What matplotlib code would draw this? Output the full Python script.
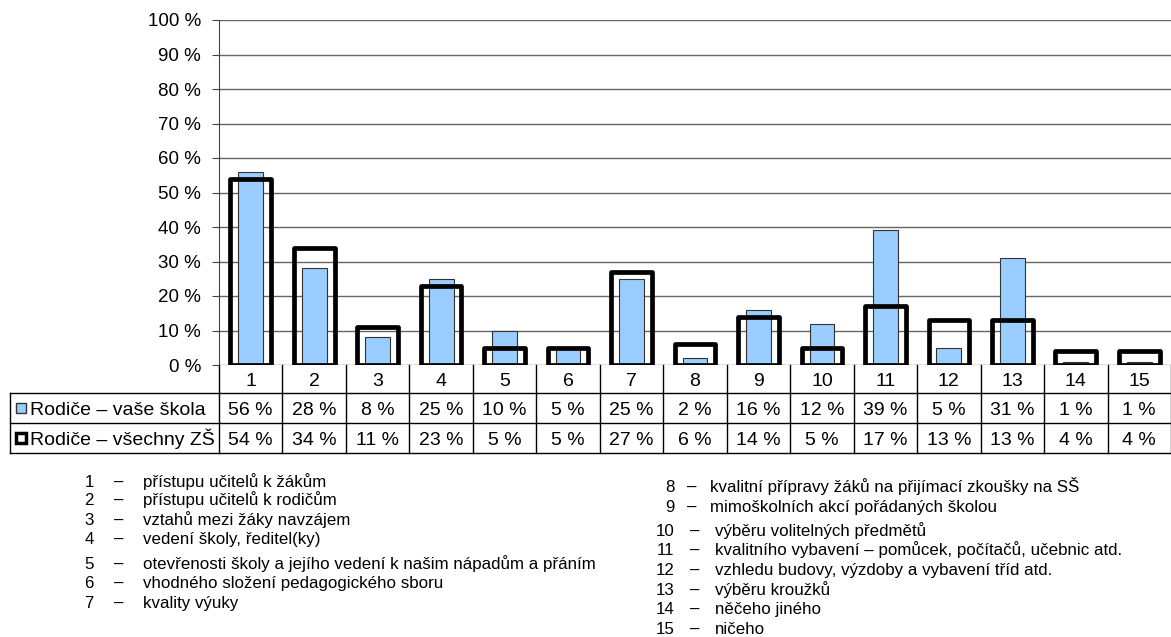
import matplotlib

matplotlib.use("Agg")
import matplotlib.pyplot as plt
from matplotlib.lines import Line2D
from matplotlib.patches import Rectangle
from matplotlib.transforms import blended_transform_factory

plt.rcParams["font.family"] = ["Liberation Sans", "DejaVu Sans"]

W, H = 1171, 637
CATEGORIES = [str(i) for i in range(1, 16)]
SKOLA = [56, 28, 8, 25, 10, 5, 25, 2, 16, 12, 39, 5, 31, 1, 1]
VSECHNY = [54, 34, 11, 23, 5, 5, 27, 6, 14, 5, 17, 13, 13, 4, 4]
SERIES_NAMES = ["Rodiče – vaše škola", "Rodiče – všechny ZŠ"]
Y_TICKS = list(range(0, 101, 10))

LEGEND_LEFT = [
    "přístupu učitelů k žákům",
    "přístupu učitelů k rodičům",
    "vztahů mezi žáky navzájem",
    "vedení školy, ředitel(ky)",
    "otevřenosti školy a jejího vedení k našim nápadům a přáním",
    "vhodného složení pedagogického sboru",
    "kvality výuky",
]
LEGEND_RIGHT = [
    "kvalitní přípravy žáků na přijímací zkoušky na SŠ",
    "mimoškolních akcí pořádaných školou",
    "výběru volitelných předmětů",
    "kvalitního vybavení – pomůcek, počítačů, učebnic atd.",
    "vzhledu budovy, výzdoby a vybavení tříd atd.",
    "výběru kroužků",
    "něčeho jiného",
    "ničeho",
]
LEFT_Y = [481, 499, 519, 538, 563, 582, 602]
RIGHT_Y = [486, 506, 530, 549, 569, 589, 608, 628]

BLUE = "#99ccff"


def fy(y):
    return 1 - y / H


def fx(x):
    return x / W


fig = plt.figure(figsize=(W / 100, H / 100), dpi=100)
ax = fig.add_axes([fx(219), fy(365), 1 - fx(219), fy(20) - fy(365)])

xs = list(range(len(CATEGORIES)))
ax.bar(xs, SKOLA, width=0.39, color=BLUE, edgecolor="#333333", lw=0.8, zorder=3)
ax.bar(xs, VSECHNY, width=0.64, facecolor="none", edgecolor="black", lw=3.4,
       joinstyle="round", zorder=4)

ax.set_xlim(-0.5, len(CATEGORIES) - 0.5)
ax.set_ylim(0, 100)
ax.set_yticks(Y_TICKS)
ax.set_yticklabels([f"{t} %" for t in Y_TICKS], fontsize=13.5)
ax.yaxis.grid(True, color="#666666", lw=1)
ax.set_axisbelow(True)
ax.set_xticks([])
for s in ("top", "right", "bottom"):
    ax.spines[s].set_visible(False)
ax.spines["left"].set_color("#444444")
ax.tick_params(axis="y", length=5, color="#444444", pad=8)

# data table under the chart
tr = blended_transform_factory(ax.transData, fig.transFigure)
line_kw = dict(color="black", lw=1)
rows_y = [365, 393, 423, 453]
for y in rows_y[1:]:
    fig.add_artist(Line2D([fx(10), 1], [fy(y), fy(y)], **line_kw))
fig.add_artist(Line2D([fx(10), fx(10)], [fy(393), fy(453)], **line_kw))
for i in range(len(CATEGORIES) + 1):
    x = i - 0.5
    fig.add_artist(Line2D([x, x], [fy(365), fy(453)], transform=tr, **line_kw))

tkw = dict(ha="center", va="baseline", fontsize=14)
for i, cat in enumerate(CATEGORIES):
    fig.text(i, fy(386), cat, transform=tr, **tkw)
    fig.text(i, fy(415), f"{SKOLA[i]} %", transform=tr, **tkw)
    fig.text(i, fy(445), f"{VSECHNY[i]} %", transform=tr, **tkw)

# legend keys in row headers
fig.add_artist(Rectangle((fx(16), fy(413)), fx(10), fy(403) - fy(413),
                         facecolor=BLUE, edgecolor="#333333", lw=1))
fig.add_artist(Rectangle((fx(16), fy(443)), fx(10), fy(433) - fy(443),
                         facecolor="white", edgecolor="black", lw=2.5))
fig.text(fx(30), fy(415), SERIES_NAMES[0], ha="left", va="baseline", fontsize=14)
fig.text(fx(30), fy(445), SERIES_NAMES[1], ha="left", va="baseline", fontsize=14)

# category descriptions
lkw = dict(va="baseline", fontsize=12.2)
for i, (txt, y) in enumerate(zip(LEGEND_LEFT, LEFT_Y)):
    fig.text(fx(89), fy(y + 6), str(i + 1), ha="center", **lkw)
    fig.text(fx(119), fy(y + 6), "–", ha="center", **lkw)
    fig.text(fx(143), fy(y + 6), txt, ha="left", **lkw)
for i, (txt, y) in enumerate(zip(LEGEND_RIGHT, RIGHT_Y)):
    n = i + 8
    nx = 670 if n < 10 else 665
    dx, tx = (692, 710) if n < 10 else (695, 715)
    fig.text(fx(nx), fy(y + 6), str(n), ha="center", **lkw)
    fig.text(fx(dx), fy(y + 6), "–", ha="center", **lkw)
    fig.text(fx(tx), fy(y + 6), txt, ha="left", **lkw)

fig.savefig("out.png", dpi=100)
